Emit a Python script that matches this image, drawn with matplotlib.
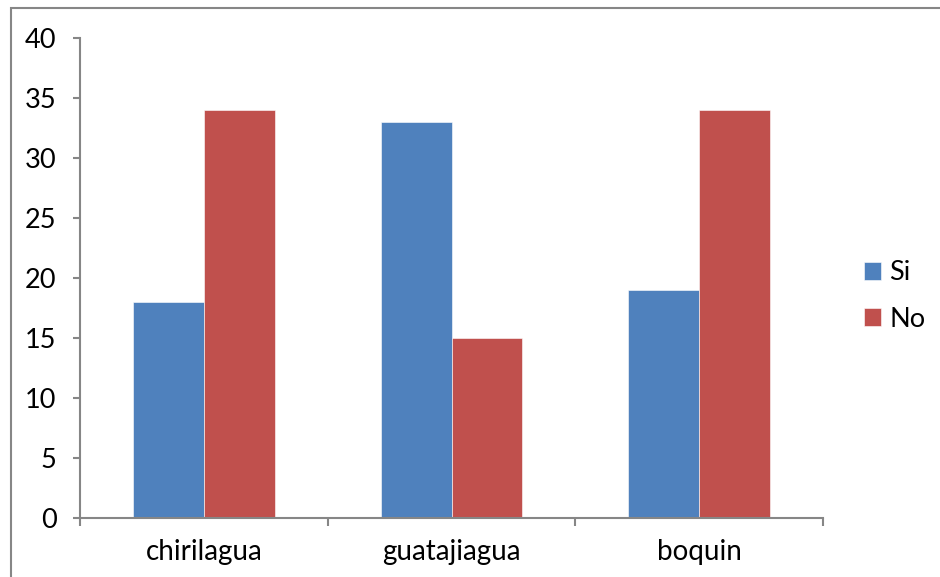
import numpy as np
import matplotlib.pyplot as plt
from matplotlib.patches import Rectangle

plt.rcParams['font.family'] = ['Lato', 'DejaVu Sans']

categories = ['chirilagua', 'guatajiagua', 'boquin']
si_values = [18, 33, 19]
no_values = [34, 15, 34]
y_ticks = [0, 5, 10, 15, 20, 25, 30, 35, 40]

blue = '#4F81BD'
red = '#C0504D'
axis_gray = '#868686'

fig = plt.figure(figsize=(9.4, 5.77), dpi=100)
ax = fig.add_axes([80 / 940, 1 - 518 / 577, 743 / 940, 480 / 577])

# chart-area border (runs off the right and bottom edges)
fig.patches.append(Rectangle((11 / 940, -0.1), 1.2, 1 - 8 / 577 + 0.1,
                             transform=fig.transFigure, fill=False,
                             edgecolor=axis_gray, linewidth=1.5))

x = np.arange(len(categories))
width = 1 / 3.5
ax.bar(x - width / 2, si_values, width, color=blue, label='Si',
       edgecolor='white', linewidth=0.4)
ax.bar(x + width / 2, no_values, width, color=red, label='No',
       edgecolor='white', linewidth=0.4)

ax.set_xlim(-0.5, len(categories) - 0.5)
ax.set_ylim(0, 40)
ax.set_yticks(y_ticks)
ax.set_xticks(x)
ax.set_xticklabels(categories)
ax.set_xticks(np.arange(len(categories) + 1) - 0.5, minor=True)

for side in ['top', 'right']:
    ax.spines[side].set_visible(False)
for side in ['left', 'bottom']:
    ax.spines[side].set_color(axis_gray)
    ax.spines[side].set_linewidth(1.5)

ax.tick_params(axis='y', length=5, width=1.5, color=axis_gray, pad=12,
               labelsize=19.5)
ax.tick_params(axis='x', which='major', length=0, pad=15, labelsize=20)
ax.tick_params(axis='x', which='minor', length=6, width=1.5, color=axis_gray)

ax.legend(loc='center left', bbox_to_anchor=(1.04, 0.4625), frameon=False,
          fontsize=19.5, handlelength=0.65, handleheight=0.65, handletextpad=0.3,
          labelspacing=0.8, borderaxespad=0)

fig.savefig('out.png', dpi=100)
